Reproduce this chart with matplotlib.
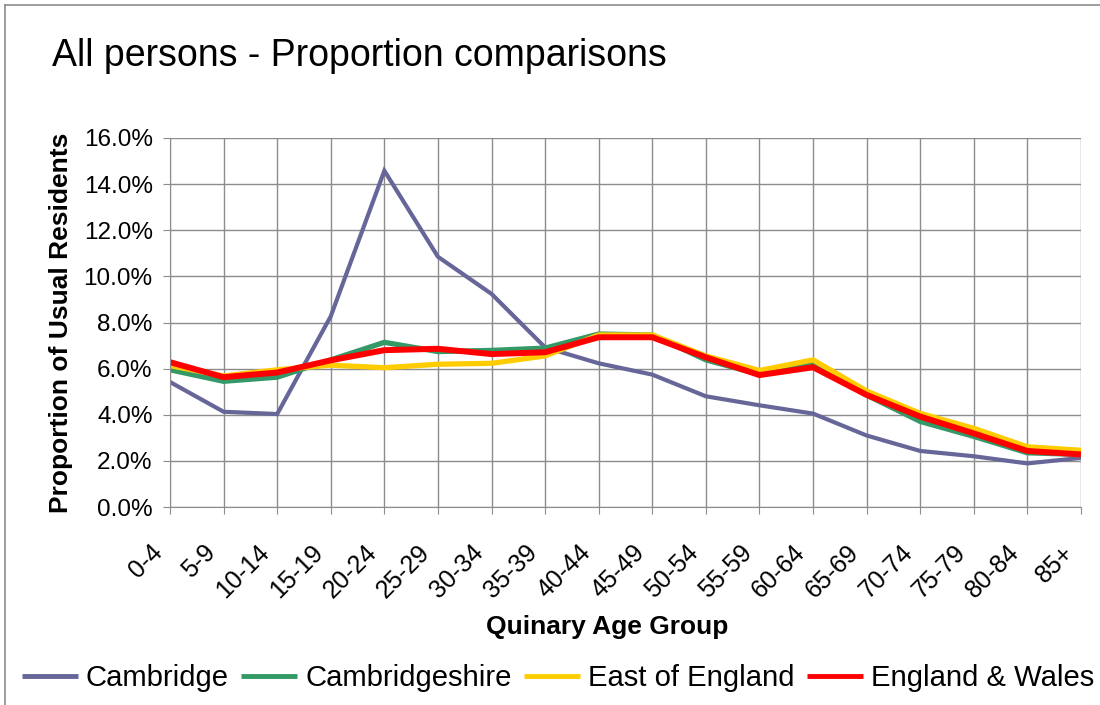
import matplotlib
matplotlib.use("Agg")
import matplotlib.pyplot as plt
from matplotlib.lines import Line2D
from matplotlib.ticker import PercentFormatter
import matplotlib.transforms as mtransforms

plt.rcParams['font.family'] = ['Liberation Sans', 'DejaVu Sans']

age_groups = ["0-4", "5-9", "10-14", "15-19", "20-24", "25-29", "30-34", "35-39",
              "40-44", "45-49", "50-54", "55-59", "60-64", "65-69", "70-74",
              "75-79", "80-84", "85+"]

cambridge = [5.42, 4.13, 4.03, 8.27, 14.58, 10.85, 9.24, 6.92, 6.23, 5.74,
             4.80, 4.41, 4.05, 3.10, 2.43, 2.20, 1.89, 2.13]
cambridgeshire = [5.95, 5.45, 5.63, 6.38, 7.14, 6.74, 6.79, 6.89, 7.50, 7.46,
                  6.38, 5.75, 6.18, 4.85, 3.71, 3.06, 2.35, 2.28]
east_of_england = [6.13, 5.68, 5.95, 6.15, 6.04, 6.19, 6.23, 6.55, 7.46, 7.46,
                   6.55, 5.92, 6.38, 5.03, 4.06, 3.41, 2.61, 2.46]
england_wales = [6.28, 5.63, 5.83, 6.36, 6.80, 6.86, 6.63, 6.71, 7.36, 7.36,
                 6.49, 5.72, 6.06, 4.86, 3.92, 3.19, 2.43, 2.28]

series = [
    ("Cambridge", cambridge, "#666699", 3.0),
    ("Cambridgeshire", cambridgeshire, "#339966", 3.8),
    ("East of England", east_of_england, "#FFCC00", 3.8),
    ("England & Wales", england_wales, "#FF0000", 4.3),
]

W, H = 1100, 705
fig = plt.figure(figsize=(W / 100, H / 100), dpi=100)
ax_w = (1081 - 170)
ax = fig.add_axes([170 / W, 1 - 507 / H, ax_w / W, (507 - 138) / H])

x = list(range(len(age_groups)))
for name, vals, col, lw in series:
    ax.plot(x, [v / 100 for v in vals], color=col, lw=lw, label=name,
            solid_joinstyle='miter', solid_capstyle='butt')

ax.set_xlim(0, len(age_groups) - 1)
ax.set_ylim(0, 0.16)
ax.set_yticks([i * 0.02 for i in range(9)])
ax.yaxis.set_major_formatter(PercentFormatter(1.0, decimals=1))
ax.set_xticks(x)

ax.grid(True, color='#8c8c8c', lw=1.0)
ax.set_axisbelow(True)
for s in ax.spines.values():
    s.set_visible(False)
ax.spines['left'].set_visible(True)
ax.spines['bottom'].set_visible(True)
ax.spines['left'].set_color('#8c8c8c')
ax.spines['bottom'].set_color('#8c8c8c')
ax.tick_params(axis='y', length=5, color='#8c8c8c', labelsize=17.5, pad=7.5)
ax.tick_params(axis='x', length=5, color='#8c8c8c', labelsize=18, pad=19)

ax.set_xticklabels(age_groups, rotation=45, ha='right', va='top',
                   rotation_mode='anchor')
offset = mtransforms.ScaledTranslation(-20 / 100, 0, fig.dpi_scale_trans)
for lab in ax.get_xticklabels():
    lab.set_transform(lab.get_transform() + offset)

ax.set_ylabel("Proportion of Usual Residents", fontsize=19, fontweight='bold')
ax.yaxis.set_label_coords((73 - 170) / ax_w, 0.5)
fig.text((486 + 728) / 2 / W, 1 - 627 / H, "Quinary Age Group", fontsize=19,
         fontweight='bold', ha='center', va='center')

fig.text(52 / W, 1 - 66 / H, "All persons - Proportion comparisons",
         fontsize=27, ha='left', va='baseline')

leg = fig.legend(loc='center', bbox_to_anchor=(558 / W, 1 - 678 / H), ncol=4,
                 frameon=False, fontsize=21.1, handlelength=1.92,
                 handletextpad=0.27, columnspacing=0.42, borderpad=0,
                 borderaxespad=0)
for h in leg.get_lines():
    h.set_linewidth(3.5)

fig.add_artist(Line2D([5 / W, 5 / W], [0, 1 - 5 / H], color='#8c8c8c', lw=1.2,
                      transform=fig.transFigure))
fig.add_artist(Line2D([5 / W, 1], [1 - 5 / H, 1 - 5 / H], color='#8c8c8c', lw=1.2,
                      transform=fig.transFigure))

fig.savefig("out.png", dpi=100)
